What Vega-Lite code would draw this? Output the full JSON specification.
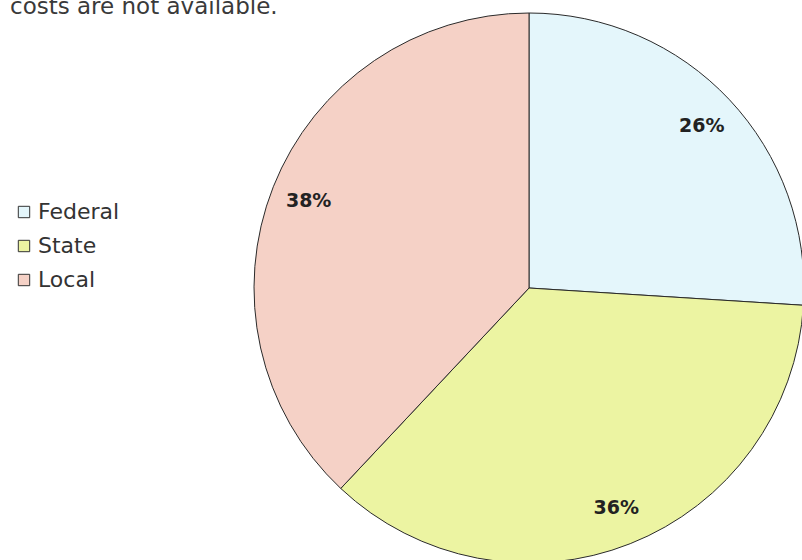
{
  "$schema": "https://vega.github.io/schema/vega-lite/v6.json",
  "autosize": {"type": "none"},
  "width": 550,
  "height": 550,
  "padding": {"left": 254, "top": 13, "right": 0, "bottom": 0},
  "background": "white",
  "config": {"view": {"stroke": null}, "font": "DejaVu Sans"},
  "title": {
    "text": "costs are not available.",
    "anchor": "start",
    "frame": "group",
    "orient": "top",
    "dx": -244,
    "offset": -26,
    "baseline": "alphabetic",
    "fontSize": 23,
    "fontWeight": "normal",
    "color": "#3a3a3a",
    "font": "DejaVu Sans"
  },
  "data": {
    "values": [
      {"level": "Federal", "share": 26, "rank": 1, "label": "26%"},
      {"level": "State", "share": 36, "rank": 2, "label": "36%"},
      {"level": "Local", "share": 38, "rank": 3, "label": "38%"}
    ]
  },
  "encoding": {
    "theta": {"field": "share", "type": "quantitative", "stack": true},
    "order": {"field": "rank", "type": "quantitative"}
  },
  "layer": [
    {
      "mark": {"type": "arc", "outerRadius": 275, "stroke": "#2a2a2a", "strokeWidth": 1},
      "encoding": {
        "color": {
          "field": "level",
          "type": "nominal",
          "sort": ["Federal", "State", "Local"],
          "scale": {"domain": ["Federal", "State", "Local"], "range": ["#e4f6fb", "#ecf4a2", "#f5d1c6"]},
          "legend": {
            "title": null,
            "orient": "none",
            "legendX": -241,
            "legendY": 188,
            "padding": 0,
            "symbolType": "square",
            "symbolSize": 130,
            "symbolStrokeColor": "#333",
            "symbolStrokeWidth": 1,
            "symbolOpacity": 1,
            "labelFontSize": 22,
            "labelFont": "DejaVu Sans",
            "labelColor": "#333",
            "labelOffset": 3,
            "rowPadding": 12
          }
        }
      }
    },
    {
      "mark": {"type": "text", "radius": 237, "fontSize": 19, "fontWeight": "bold", "font": "DejaVu Sans", "color": "#222"},
      "encoding": {"text": {"field": "label", "type": "nominal"}}
    }
  ]
}
